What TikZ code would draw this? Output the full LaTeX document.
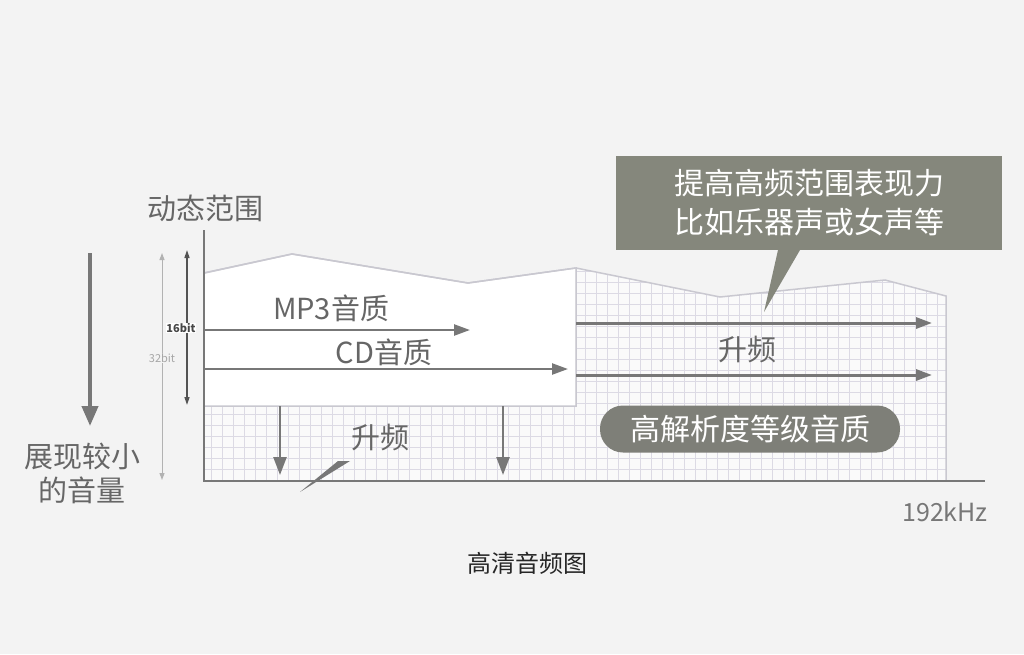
\documentclass[tikz,border=0pt]{standalone}
\usepackage{fontspec}
\setmainfont{Noto Sans CJK SC}
\usetikzlibrary{arrows.meta}
\definecolor{bg}{HTML}{F3F3F3}
\definecolor{tx}{HTML}{666666}
\definecolor{ln}{HTML}{777777}
\definecolor{gridc}{HTML}{DCDAE4}
\definecolor{boxc}{HTML}{85877C}
\definecolor{pill}{HTML}{7E7F78}
\tikzset{lbl/.style={text=tx,font=\fontsize{29}{32}\selectfont,inner sep=0pt},
arr/.style={draw=ln,line width=2.4pt,-{Triangle[length=16pt,width=11pt]}}}
\begin{document}
\begin{tikzpicture}[x=1pt,y=-1pt]
\fill[bg] (0,0) rectangle (1024,654);
\useasboundingbox (0,0) rectangle (1024,654);
% grid region
\path[fill=white!60!bg] (204,406) -- (576,406) -- (576,268) -- (720,297) -- (885,280) -- (946,296) -- (946,481) -- (204,481) -- cycle;
\begin{scope}
\clip (204,406) -- (576,406) -- (576,268) -- (720,297) -- (885,280) -- (946,296) -- (946,481) -- (204,481) -- cycle;
\foreach \i in {0,...,70} {\draw[gridc,line width=0.5pt] (200+\i*11,260) -- (200+\i*11,485);}
\foreach \j in {0,...,21} {\draw[gridc,line width=0.5pt] (200,260+\j*11) -- (950,260+\j*11);}
\end{scope}
\draw[gridc!80!gray,line width=1.5pt] (204,273) -- (292,254) -- (468,283) -- (576,268) -- (720,297) -- (885,280) -- (946,296) -- (946,481);
\fill[white] (205,406) -- (205,274) -- (292,255) -- (468,284) -- (575,269) -- (575,406) -- cycle;
\draw[gridc!80!gray,line width=1.5pt] (204,273) -- (292,254) -- (468,283) -- (576,268) -- (576,406) -- (204,406);
% axes
\coordinate (yt) at (204,230); \coordinate (o) at (204,481); \coordinate (xe) at (985,481);
\draw[ln,line width=2pt] (yt) -- (o) -- (xe);
% arrows
\coordinate (m1) at (204,330); \coordinate (m2) at (470,330);
\coordinate (c1) at (204,369); \coordinate (c2) at (568,369);
\coordinate (r1) at (576,323); \coordinate (r2) at (932,323);
\coordinate (s1) at (576,375); \coordinate (s2) at (932,375);
\coordinate (d1) at (280,406); \coordinate (d2) at (280,475);
\coordinate (e1) at (503,406); \coordinate (e2) at (503,475);
\draw[arr] (m1) -- (m2);
\draw[arr] (c1) -- (c2);
\draw[arr,line width=3pt] (r1) -- (r2);
\draw[arr,line width=3pt] (s1) -- (s2);
\draw[arr,-{Triangle[length=18pt,width=13pt]}] (d1) -- (d2);
\draw[arr,-{Triangle[length=18pt,width=13pt]}] (e1) -- (e2);
% left bit arrows
\coordinate (b1) at (162,253); \coordinate (b2) at (162,480);
\coordinate (a1) at (187,250); \coordinate (a2) at (187,405);
\draw[gray!60,line width=1pt,{Triangle[length=7pt,width=5pt]}-{Triangle[length=7pt,width=5pt]}] (b1) -- (b2);
\draw[ln!70!black,line width=1.5pt,{Triangle[length=8pt,width=5pt]}-{Triangle[length=8pt,width=5pt]}] (a1) -- (a2);
\node[text=gray!70,font=\fontsize{11}{12}\selectfont,fill=bg,inner sep=0.5pt] (b32) at (162,358) {32bit};
\node[text=ln!60!black,font=\bfseries\fontsize{11}{12}\selectfont,fill=white,inner sep=0.5pt] (b16) at (181,328) {16bit};
\coordinate (g1) at (90,253); \coordinate (g2) at (90,426);
\draw[ln,line width=4pt,-{Triangle[length=20pt,width=16pt]}] (g1) -- (g2);
% labels
\node[lbl] (mp3) at (331,308) {MP3音质};
\node[lbl] (cd) at (384,352) {CD音质};
\node[lbl] (sp1) at (380,437) {升频};
\node[lbl] (sp2) at (747,349) {升频};
\node[lbl] (dyn) at (205,208) {动态范围};
\node[lbl,align=center,font=\fontsize{29}{34}\selectfont] (small) at (82,473) {展现较小\\的音量};
\node[lbl,text=ln,font=\fontsize{25}{28}\selectfont] (khz) at (945,512) {192kHz};
\node[text=black!85,font=\fontsize{24}{26}\selectfont,inner sep=0pt] (title) at (527,563) {高清音频图};
\fill[ln] (350,461) -- (338,461) -- (300,492) -- cycle;
% callout box
\node[fill=boxc,text=white,minimum width=386pt,minimum height=94pt,align=center,font=\fontsize{30}{39}\selectfont] (box) at (809,203) {提高高频范围表现力\\比如乐器声或女声等};
\fill[boxc] (778,250) -- (800,250) -- (764,312) -- cycle;
\node[fill=pill,text=white,rounded corners=23pt,minimum width=300pt,minimum height=47pt,font=\fontsize{30}{32}\selectfont] (hr) at (750,429) {高解析度等级音质};
\end{tikzpicture}
\end{document}
